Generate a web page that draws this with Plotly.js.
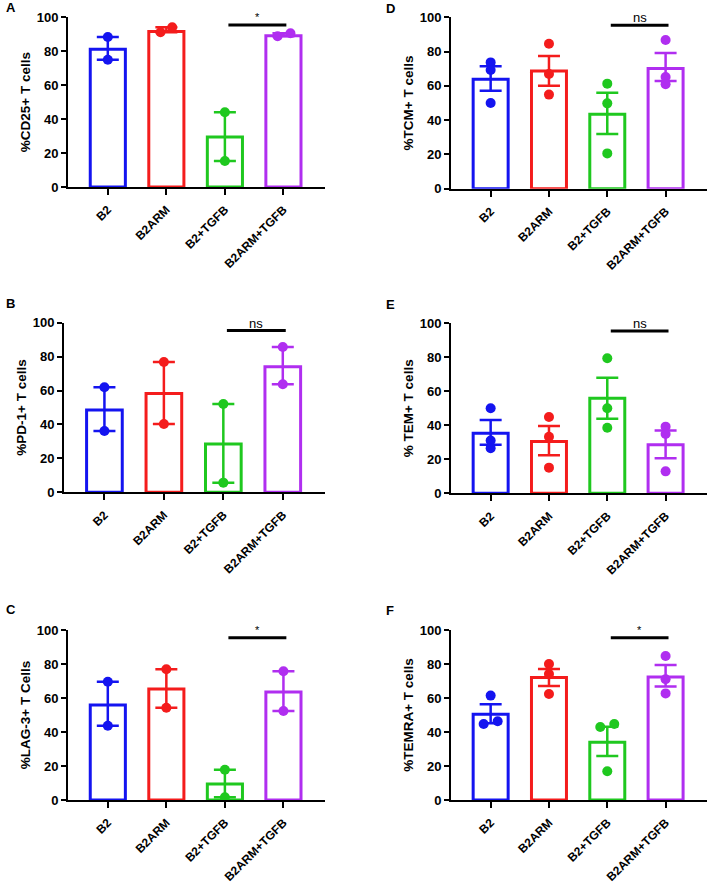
<!DOCTYPE html>
<html>
<head>
<meta charset="utf-8">
<script src="https://cdn.plot.ly/plotly-3.0.1.min.js"></script>
<style>html,body{margin:0;padding:0;background:#fff;}#chart{width:708px;height:885px;}</style>
</head>
<body>
<div id="chart"></div>
<script>
// ---------- data ----------
const categories = ['B2', 'B2ARM', 'B2+TGFB', 'B2ARM+TGFB'];
const yTicks = [0, 20, 40, 60, 80, 100];

// Panel A: %CD25+ T cells (n=2, bars = range)
const cd25Mean = [81.1, 91.7, 29.5, 89.2];
const cd25Points = [[88.4, 75.0], [91.2, 94.1], [44.0, 15.3], [88.8, 90.6]];
const cd25ErrHi = [88.4, 94.1, 44.0, 90.6];
const cd25ErrLo = [75.0, 91.2, 15.3, 88.8];

// Panel B: %PD-1+ T cells
const pd1Mean = [48.5, 58.2, 28.5, 74.1];
const pd1Points = [[61.9, 36.1], [76.8, 40.3], [52.1, 5.7], [85.7, 63.7]];
const pd1ErrHi = [61.9, 76.8, 52.1, 85.7];
const pd1ErrLo = [36.1, 40.3, 5.7, 63.7];

// Panel C: %LAG-3+ T Cells
const lag3Mean = [55.9, 65.3, 9.4, 63.5];
const lag3Points = [[69.6, 43.7], [76.9, 54.3], [17.8, 1.6], [75.7, 52.4]];
const lag3ErrHi = [69.6, 76.9, 17.8, 75.7];
const lag3ErrLo = [43.7, 54.3, 1.6, 52.4];

// Panel D: %TCM+ T cells (n=3, bars = SEM)
const tcmMean = [63.8, 68.7, 43.4, 70.2];
const tcmPoints = [[73.7, 69.3, 50.0], [84.6, 66.9, 54.9], [61.3, 49.8, 20.6], [86.8, 65.2, 60.9]];
const tcmErrHi = [71.4, 77.4, 56.0, 79.2];
const tcmErrLo = [57.2, 60.1, 31.9, 62.8];

// Panel E: % TEM+ T cells
const temMean = [35.3, 30.4, 55.9, 28.6];
const temPoints = [[50.0, 31.0, 26.5], [44.9, 33.3, 15.1], [79.4, 50.0, 38.6], [39.2, 34.9, 12.9]];
const temErrHi = [43.1, 39.6, 68.0, 36.9];
const temErrLo = [28.6, 22.4, 43.9, 20.6];

// Panel F: %TEMRA+ T cells
const temraMean = [50.4, 72.0, 33.9, 72.4];
const temraPoints = [[61.4, 44.7, 46.3], [80.0, 74.1, 62.4], [42.9, 44.7, 16.9], [84.7, 71.0, 62.7]];
const temraErrHi = [56.3, 77.1, 43.1, 79.4];
const temraErrLo = [45.1, 67.1, 25.9, 66.7];

// significance labels (B2+TGFB vs B2ARM+TGFB)
const sigLabels = ['*', 'ns', '*', 'ns', 'ns', '*'];

// ---------- styling / layout ----------
const colors = ['#1414f0', '#f41c1c', '#1fc81f', '#b02ef0'];
const W = 708, H = 885;
const FONT = 'Liberation Sans, Arial, Helvetica, sans-serif';

const panels = [
  {letter: 'A', title: '%CD25+ T cells',   mean: cd25Mean,  pts: cd25Points,  hi: cd25ErrHi,  lo: cd25ErrLo,
   px: [68, 325], py: [17.3, 187], letterPos: [4, 7.5],
   jitter: [[0, 0], [-0.1, 0.1], [0, 0], [-0.1, 0.12]]},
  {letter: 'B', title: '%PD-1+ T cells',   mean: pd1Mean,   pts: pd1Points,   hi: pd1ErrHi,   lo: pd1ErrLo,
   px: [64, 325], py: [322.7, 492.3], letterPos: [4, 303.5],
   jitter: [[0, 0], [0, 0], [0, 0], [0, 0]]},
  {letter: 'C', title: '%LAG-3+ T Cells',  mean: lag3Mean,  pts: lag3Points,  hi: lag3ErrHi,  lo: lag3ErrLo,
   px: [68, 325], py: [630, 800], letterPos: [4, 609],
   jitter: [[0, 0], [0, 0], [0, 0], [0, 0]]},
  {letter: 'D', title: '%TCM+ T cells',    mean: tcmMean,   pts: tcmPoints,   hi: tcmErrHi,   lo: tcmErrLo,
   px: [451, 707], py: [17.3, 188.7], letterPos: [384, 8.5],
   jitter: [[0, 0, 0], [0, 0, 0], [0, 0, 0], [0, 0, 0]]},
  {letter: 'E', title: '% TEM+ T cells',   mean: temMean,   pts: temPoints,   hi: temErrHi,   lo: temErrLo,
   px: [451, 707], py: [323.3, 493.3], letterPos: [384, 304],
   jitter: [[0, 0, 0], [0, 0, 0], [0, 0, 0], [0, 0, 0]]},
  {letter: 'F', title: '%TEMRA+ T cells',  mean: temraMean, pts: temraPoints, hi: temraErrHi, lo: temraErrLo,
   px: [451, 707], py: [630, 800], letterPos: [384, 610],
   jitter: [[0, -0.12, 0.12], [0, 0, 0], [-0.12, 0.12, 0], [0, 0, 0]]}
];

const data = [];
const layout = {
  width: W, height: H,
  margin: {l: 0, r: 0, t: 0, b: 0},
  paper_bgcolor: '#fff', plot_bgcolor: 'rgba(0,0,0,0)',
  showlegend: false,
  barmode: 'overlay',
  font: {family: FONT, color: '#000'},
  shapes: [], annotations: []
};

panels.forEach((p, k) => {
  const n = k + 1;
  const xa = 'x' + (n === 1 ? '' : n), ya = 'y' + (n === 1 ? '' : n);
  const xk = 'xaxis' + (n === 1 ? '' : n), yk = 'yaxis' + (n === 1 ? '' : n);
  layout[xk] = {
    domain: [p.px[0] / W, p.px[1] / W],
    range: [-0.68, 3.71],
    anchor: ya,
    tickmode: 'array', tickvals: [0, 1, 2, 3], ticktext: categories,
    tickangle: -45,
    ticks: 'outside', ticklen: 6, tickwidth: 2, tickcolor: '#000',
    ticklabelstandoff: 3,
    showline: true, linewidth: 2, linecolor: '#000',
    showgrid: false, zeroline: false,
    tickfont: {family: FONT, size: 12, weight: 'bold', color: '#000'},
    fixedrange: true
  };
  layout[yk] = {
    domain: [1 - p.py[1] / H, 1 - p.py[0] / H],
    range: [0, 100],
    anchor: xa,
    tickmode: 'array', tickvals: yTicks,
    ticks: 'outside', ticklen: 5, tickwidth: 2, tickcolor: '#000',
    showline: true, linewidth: 2, linecolor: '#000',
    showgrid: false, zeroline: false,
    tickfont: {family: FONT, size: 13, weight: 'bold', color: '#000'},
    title: {text: p.title, font: {family: FONT, size: 13.5, weight: 'bold', color: '#000'}, standoff: 3},
    fixedrange: true
  };
  categories.forEach((c, i) => {
    data.push({
      type: 'bar', x: [i], y: [p.mean[i]], width: 0.6,
      xaxis: xa, yaxis: ya, cliponaxis: false,
      marker: {color: '#fff', line: {color: colors[i], width: 3}},
      error_y: {type: 'data', symmetric: false,
        array: [p.hi[i] - p.mean[i]], arrayminus: [p.mean[i] - p.lo[i]],
        color: colors[i], thickness: 2.5, width: 11},
      hoverinfo: 'skip'
    });
    data.push({
      type: 'scatter', mode: 'markers',
      x: p.pts[i].map((v, j) => i + p.jitter[i][j]), y: p.pts[i],
      xaxis: xa, yaxis: ya, cliponaxis: false,
      marker: {color: colors[i], size: 10},
      hoverinfo: 'skip'
    });
  });
  // significance bar
  layout.shapes.push({type: 'line', xref: xa, yref: ya, x0: 2.06, x1: 3.05, y0: 95.4, y1: 95.4,
    line: {color: '#000', width: 3}});
  const star = sigLabels[k] === '*';
  layout.annotations.push({xref: xa, yref: ya, x: 2.555, y: 95.4, yanchor: 'bottom', xanchor: 'center',
    text: sigLabels[k], showarrow: false, yshift: star ? 0 : -2,
    font: {family: FONT, size: star ? 11 : 13, color: '#000'}});
  // panel letter
  layout.annotations.push({xref: 'paper', yref: 'paper', x: p.letterPos[0] / W, y: 1 - p.letterPos[1] / H,
    xanchor: 'left', yanchor: 'middle', text: p.letter, showarrow: false,
    font: {family: FONT, size: 13, weight: 'bold', color: '#000'}});
});

Plotly.newPlot('chart', data, layout, {staticPlot: true, displayModeBar: false});
</script>
</body>
</html>
